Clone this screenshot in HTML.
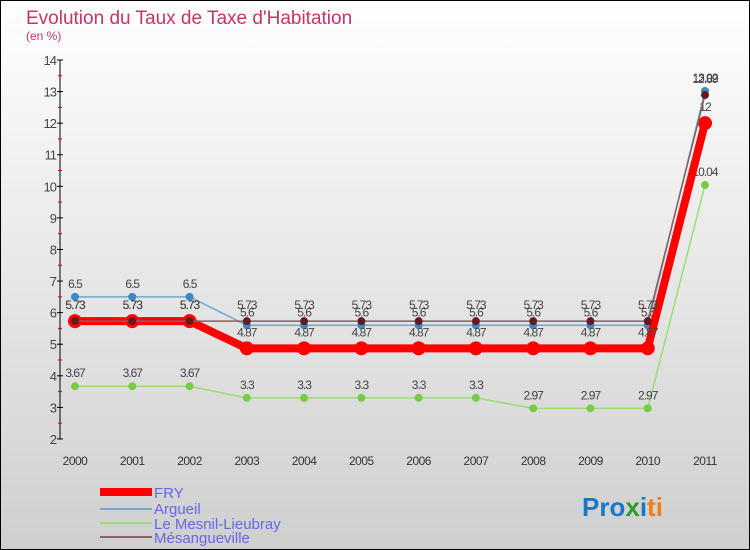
<!DOCTYPE html>
<html><head><meta charset="utf-8"><style>
body{margin:0;}
#c{width:750px;height:550px;position:relative;overflow:hidden;font-family:"Liberation Sans",sans-serif;}
</style></head><body>
<div id="c">
<svg id="s" width="750" height="550" xmlns="http://www.w3.org/2000/svg">
<defs><linearGradient id="bg" x1="0" y1="0" x2="0" y2="1"><stop offset="0" stop-color="#ffffff"/><stop offset="1" stop-color="#cfcfcf"/></linearGradient></defs>
<rect x="0.5" y="0.5" width="749" height="549" fill="url(#bg)" stroke="#000"/>
<text x="26" y="24" font-size="19" fill="#c8336a">Evolution du Taux de Taxe d'Habitation</text>
<text x="26" y="40" font-size="12" fill="#c8336a">(en %)</text>
<g id="axes"></g><g id="series"></g>
<g>
<rect x="100" y="488" width="52" height="8" fill="#ff0000"/>
<text x="154" y="498" font-size="15" fill="#6666ee">FRY</text>
<line x1="100" y1="509" x2="152" y2="509" stroke="#6fa8d0" stroke-width="2"/>
<text x="154" y="514" font-size="15" fill="#6666ee">Argueil</text>
<line x1="100" y1="523" x2="152" y2="523" stroke="#99dd77" stroke-width="2"/>
<text x="154" y="529" font-size="15" fill="#6666ee">Le Mesnil-Lieubray</text>
<line x1="100" y1="537" x2="152" y2="537" stroke="#8b6060" stroke-width="2"/>
<text x="154" y="543" font-size="15" fill="#6666ee">Mésangueville</text>
</g>
<text x="582" y="516" font-size="26" font-weight="bold"><tspan fill="#1a78c8">Pro</tspan><tspan fill="#2a9a2a">x</tspan><tspan fill="#1a78c8">i</tspan><tspan fill="#f08010">ti</tspan></text>
</svg></div>
<script>
const years=["2000","2001","2002","2003","2004","2005","2006","2007","2008","2009","2010","2011"];
const yTicks=[2,3,4,5,6,7,8,9,10,11,12,13,14];
const fry=[5.73,5.73,5.73,4.87,4.87,4.87,4.87,4.87,4.87,4.87,4.87,12];
const argueil=[6.5,6.5,6.5,5.6,5.6,5.6,5.6,5.6,5.6,5.6,5.6,13.02];
const mesnil=[3.67,3.67,3.67,3.3,3.3,3.3,3.3,3.3,2.97,2.97,2.97,10.04];
const mesang=[5.73,5.73,5.73,5.73,5.73,5.73,5.73,5.73,5.73,5.73,5.73,12.89];
const NS="http://www.w3.org/2000/svg";
const xS=i=>75+i*(630/11);
const yS=v=>60+(14-v)*31.58;
function mk(t,a,p){const e=document.createElementNS(NS,t);for(const k in a)e.setAttribute(k,a[k]);p.appendChild(e);return e;}
const ax=document.getElementById('axes');
let l=mk('line',{x1:60,y1:yS(14),x2:60,y2:yS(2),stroke:'#000'},ax);


yTicks.forEach(v=>{
 mk('line',{x1:57,y1:yS(v),x2:63,y2:yS(v),stroke:'#000'},ax);
 if(v<14) mk('line',{x1:58,y1:yS(v+0.5),x2:62,y2:yS(v+0.5),stroke:'#e00000'},ax);
 const t=mk('text',{x:56,y:yS(v)+5,'font-size':13,fill:'#444','text-anchor':'end','letter-spacing':'-1'},ax);
 t.textContent=v;
 
 
});
years.forEach((y,i)=>{
 const t=mk('text',{x:xS(i),y:465,'font-size':12,fill:'#333','text-anchor':'middle','letter-spacing':'-0.5'},ax);
 t.textContent=y;
 
 
});
const sg=document.getElementById('series');
function series(name,vals,color,w,r,dot,labOff){
 const g=mk('g',{},sg);
 
 
 const p=mk('polyline',{points:vals.map((v,i)=>xS(i)+','+yS(v)).join(' '),fill:'none',stroke:color,'stroke-width':w,'stroke-linejoin':'round'},g);
 
 
 vals.forEach((v,i)=>{
  const c=mk('circle',{cx:xS(i),cy:yS(v),r:r,fill:dot},g);
  
  
  const t=mk('text',{x:xS(i),y:yS(v)+labOff,'font-size':12,fill:'#444','text-anchor':'middle','letter-spacing':'-1'},g);
  t.textContent=String(v);
  
  
 });
}
series('mesnil',mesnil,'#99dd77',1.5,4,'#77cc44',-9);
series('argueil',argueil,'#6fa8d0',1.5,4,'#3a88c8',-9);
series('fry',fry,'#ff0000',8,7,'#ff0000',-12);
series('mesangueville',mesang,'#8b6060',1.5,4,'#661a1a',-12);
</script>
</body></html>
